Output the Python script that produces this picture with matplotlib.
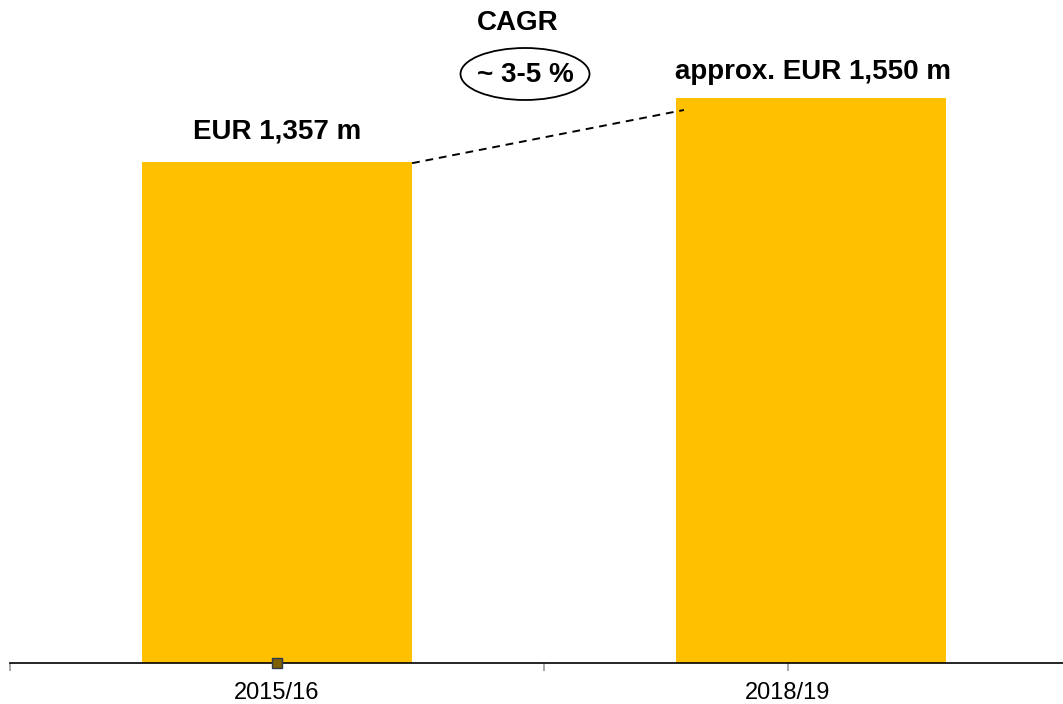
import matplotlib.pyplot as plt
from matplotlib.patches import Ellipse

plt.rcParams['font.family'] = ['Liberation Sans', 'DejaVu Sans']

# data
years = ['2015/16', '2018/19']
revenue = [1357, 1530]  # bar heights (EUR m), estimated from pixels
bar_labels = ['EUR 1,357 m', 'approx. EUR 1,550 m']
cagr_text = '~ 3-5 %'

W, H = 1063, 704
fig = plt.figure(figsize=(W / 100, H / 100), dpi=100)
# axis baseline at y=663px, category 0 centre at x=277, spacing 534px
ax = fig.add_axes([10 / W, 41 / H, 1068 / W, 663 / H])
ax.set_xlim(-0.5, 1.5)
ax.set_ylim(0, 1796)

x = [0, 1]
ax.bar(x, revenue, width=0.506, color='#FFC000', zorder=2)

for s in ['top', 'right', 'left']:
    ax.spines[s].set_visible(False)
ax.spines['bottom'].set_color('black')
ax.spines['bottom'].set_linewidth(1.2)
ax.set_yticks([])

# gray boundary ticks plus odd label positions as in the reference
ax.set_xticks([-0.5, 0, 0.5, 0.957])
ax.set_xticklabels(['', years[0], '', years[1]], fontsize=17)
ax.tick_params(axis='x', length=6, color='#999999', width=1.2, pad=8)
ax.xaxis.get_major_ticks()[1].tick1line.set_visible(False)

# little marker on the baseline
ax.plot([0], [0], marker='s', markersize=7, markerfacecolor='#7F6000',
        markeredgecolor='#2F3A4F', markeredgewidth=1, clip_on=False, zorder=5)

# value labels
ax.text(0, revenue[0] + 82, bar_labels[0], ha='center', va='center',
        fontsize=20, fontweight='bold')
ax.text(1.004, revenue[1] + 71, bar_labels[1], ha='center', va='center',
        fontsize=20, fontweight='bold')

# dashed connector between the bars
ax.plot([0.253, 0.762], [revenue[0] - 3, 1498], ls=(0, (4, 3)),
        color='black', lw=1.4, zorder=3)

# CAGR bubble
fig.text(518 / W, 1 - 23 / H, 'CAGR', ha='center', va='center',
         fontsize=20, fontweight='bold')
fig.text(525 / W, 1 - 75 / H, cagr_text, ha='center', va='center',
         fontsize=20, fontweight='bold')
ell = Ellipse((525 / W, 1 - 74 / H), 129 / W, 52 / H, transform=fig.transFigure,
              fill=False, edgecolor='black', lw=1.3)
fig.patches.append(ell)

fig.savefig('out.png', dpi=100)
